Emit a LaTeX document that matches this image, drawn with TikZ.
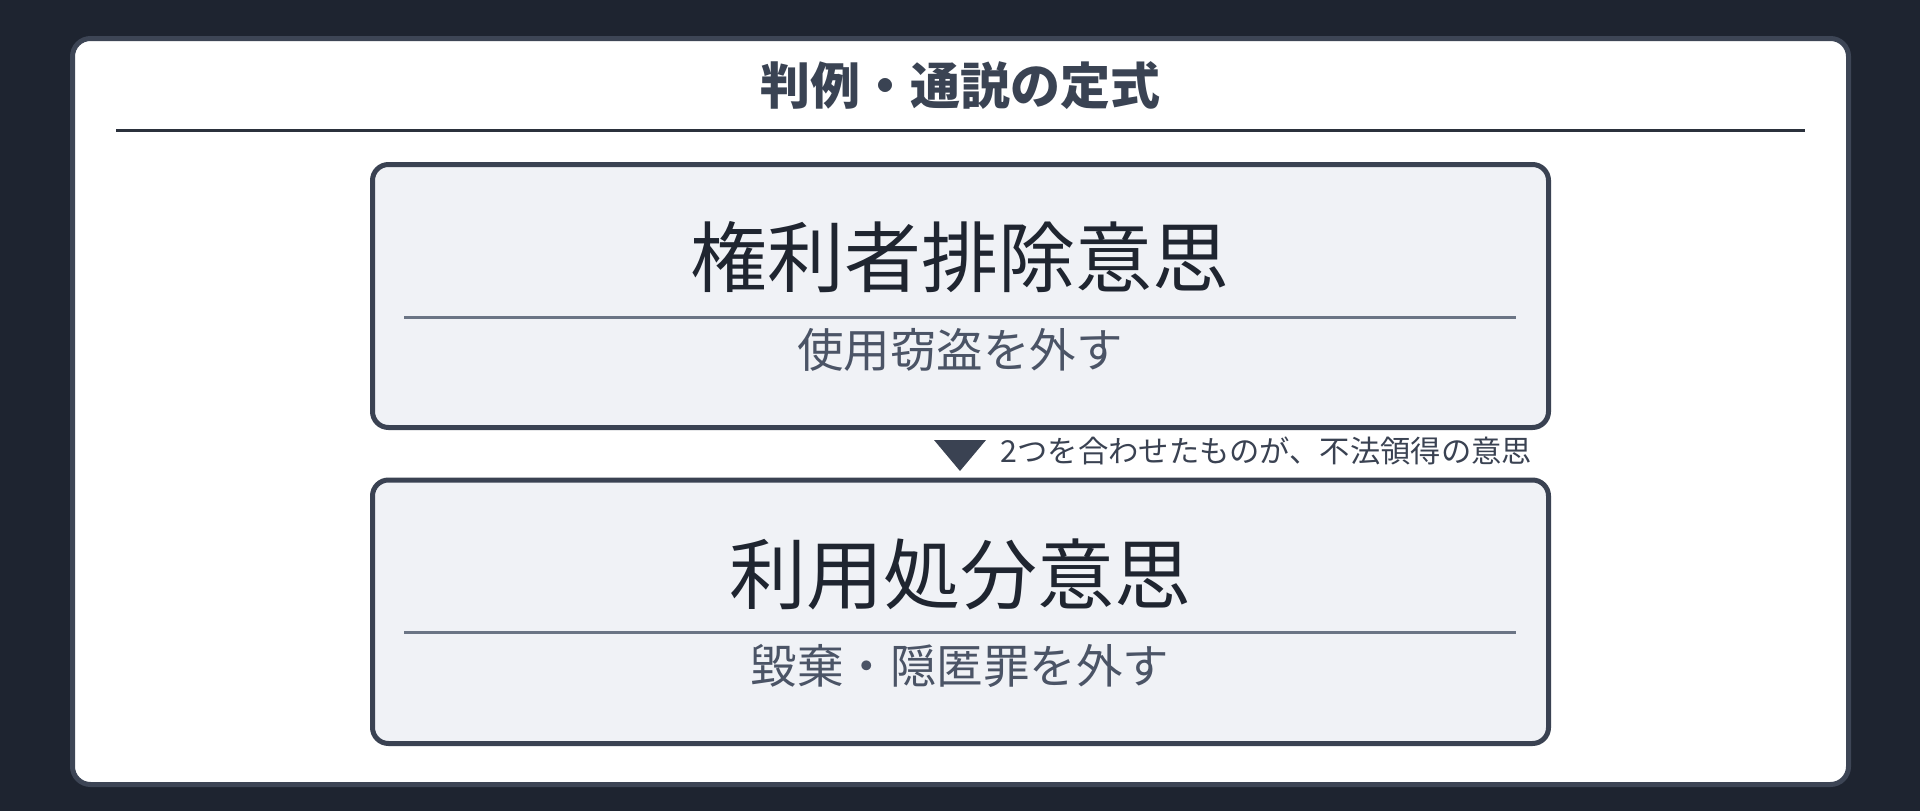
\documentclass[tikz,border=0pt]{standalone}
\usepackage{fontspec}
\newfontfamily\jp{Noto Sans CJK JP}
\definecolor{bgc}{HTML}{1E2430}
\definecolor{cardline}{HTML}{3D4555}
\definecolor{boxfill}{HTML}{F0F2F6}
\definecolor{boxline}{HTML}{3A4252}
\definecolor{maintext}{HTML}{1F2530}
\definecolor{subtext}{HTML}{4B5466}
\definecolor{titletext}{HTML}{3A4353}
\definecolor{innerrule}{HTML}{6B7585}
\definecolor{titlerule}{HTML}{2B313C}
\tikzset{
  cardbox/.style={draw=cardline, fill=white, line width=5pt, rounded corners=18pt},
  conceptbox/.style={draw=boxline, fill=boxfill, line width=5pt, rounded corners=16pt,
    minimum width=1176pt, inner sep=0pt, outer sep=0pt},
  maintxt/.style={text=maintext, font=\jp\fontsize{77}{77}\selectfont, inner sep=0pt, anchor=base},
  subtxt/.style={text=subtext, font=\jp\fontsize{46.5}{46.5}\selectfont, inner sep=0pt, anchor=base},
  titletxt/.style={text=titletext, font=\jp\bfseries\fontsize{50}{50}\selectfont, inner sep=0pt, anchor=base},
  notetxt/.style={text=boxline, font=\jp\fontsize{30.3}{30.3}\selectfont, inner sep=0pt, anchor=base west},
  innerline/.style={draw=innerrule, line width=3pt},
  headline/.style={draw=titlerule, line width=3pt},
}
\begin{document}
\begin{tikzpicture}[x=1pt,y=-1pt]
\useasboundingbox (0,0) rectangle (1920,811);
\fill[bgc] (0,0) rectangle (1920,811);
\draw[cardbox] (72.5,38.5) rectangle (1848.5,784.5);
% title
\node[titletxt] (title) at (960,104) {判例・通説の定式};
\draw[headline] (116,130) -- (1805,130);
% boxes
\node[conceptbox, minimum height=263pt] (b1) at (960.5,296) {};
\node[conceptbox, minimum height=263.5pt] (b2) at (960.5,611.75) {};
% box 1 content
\node[maintxt] (m1) at (960,286) {権利者排除意思};
\draw[innerline] (404,317) -- (1516,317);
\node[subtxt] (s1) at (960,367) {使用窃盗を外す};
% box 2 content
\node[maintxt] (m2) at (960,603) {利用処分意思};
\draw[innerline] (404,632) -- (1516,632);
\node[subtxt] (s2) at (960,683) {毀棄・隠匿罪を外す};
% arrow marker and note
\fill[boxline] (934,440) -- (986,440) -- (960,471) -- cycle;
\node[notetxt] (note) at (1000.5,462) {2つを合わせたものが、不法領得の意思};
\end{tikzpicture}
\end{document}
